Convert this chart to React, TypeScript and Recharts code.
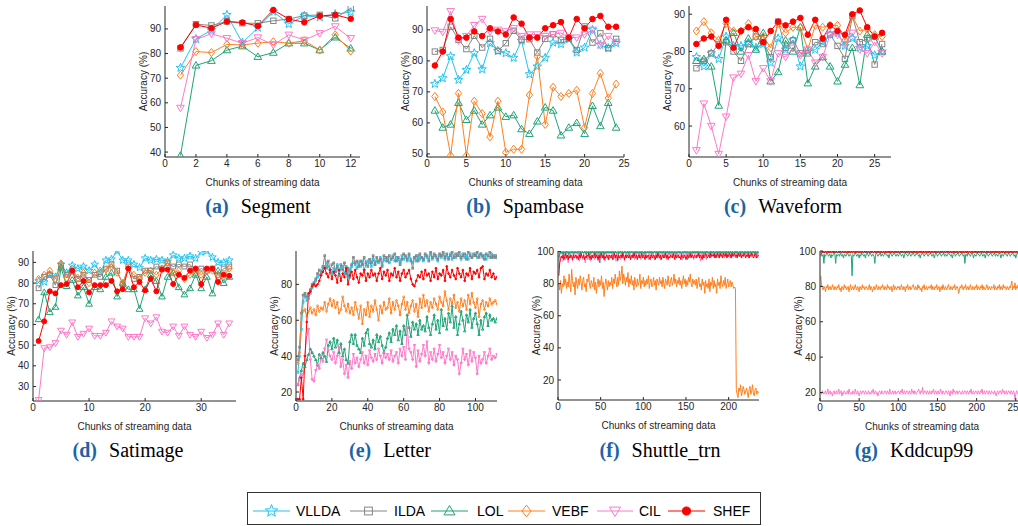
import React from 'react';
import { LineChart, Line, XAxis, YAxis } from 'recharts';

const FONT = '"Liberation Sans", Arial, Helvetica, sans-serif';
const SERIF = '"Liberation Serif", "Times New Roman", Times, serif';
const AX = '#262626';

const SERIES = [
  { key: 'VLLDA', color: '#21c4f2', shape: 'star' },
  { key: 'ILDA', color: '#858585', shape: 'square' },
  { key: 'LOL', color: '#1fa477', shape: 'tri' },
  { key: 'VEBF', color: '#ff7f1f', shape: 'diamond' },
  { key: 'CIL', color: '#ff79c9', shape: 'vtri' },
  { key: 'SHEF', color: '#ff0000', shape: 'circle' },
];

// (a) Segment
const A_VLLDA = [74.2, 85.9, 89.5, 95.7, 84.4, 90.5, 97, 92, 95.3, 94.8, 96, 96.8];
const A_ILDA = [82.1, 91.9, 91.4, 93, 92.3, 92.3, 93.3, 94, 95.4, 95.7, 94.3, 98.4];
const A_LOL = [38.6, 75.2, 77.1, 81.4, 83, 78.7, 80.4, 84.2, 84.2, 81.4, 86.6, 82.1];
const A_VEBF = [71.2, 80.8, 80.4, 83.7, 83.5, 84.2, 84.8, 84.2, 85.2, 81.4, 87.6, 81];
const A_CIL = [57.9, 85.8, 88, 86.2, 84.2, 86.5, 83.5, 87.6, 85.5, 88.2, 91, 86.2];
const A_SHEF = [82.5, 91.6, 90.3, 93, 92.6, 91.2, 97.7, 94, 92.7, 95.3, 95.7, 94.1];

// (b) Spambase
const B_VLLDA = [72.6, 74.4, 81.5, 73.9, 77.1, 82.5, 77.3, 85.7, 83.2, 82.5, 81, 86.5, 75.7, 78.2, 81, 85.9, 85.4, 87, 82.7, 84.3, 90, 85.2, 84.1, 85.7];
const B_ILDA = [83, 83.5, 91, 86.8, 83.8, 88.1, 84.3, 87.1, 83.2, 85.7, 89.7, 86.8, 87, 82.7, 87.1, 88.6, 86.8, 87.1, 83.5, 91.1, 85.9, 88.9, 84.1, 87.1];
const B_LOL = [64, 58.5, 59.5, 66.5, 61, 64, 59.5, 62.5, 65, 62, 62.5, 58, 56.5, 60.5, 65, 64, 56, 58.5, 60, 56.5, 65.5, 59, 66.5, 58.5];
const B_VEBF = [68.5, 63.5, 49.5, 69.5, 49.5, 67, 63, 55.5, 67, 50.5, 51.5, 51.5, 69, 81.5, 59.5, 71.5, 68.5, 69.5, 70.5, 58.5, 69.5, 76, 68, 72.5];
const B_CIL = [89.8, 89.3, 96, 86.5, 88, 91.5, 93.5, 89.5, 90, 89.5, 90.5, 88, 88.5, 88.5, 88, 88.5, 89, 87.5, 87.5, 88.5, 90, 85, 88, 86];
const B_SHEF = [78.5, 83, 93.5, 87.5, 87.5, 89.5, 88, 90.5, 89.5, 88.5, 94, 92, 87.5, 87.5, 90.5, 91.5, 92.5, 87.5, 93.5, 90.5, 93.5, 94.5, 91, 91];

// (c) Waveform
const C_VLLDA = [78.5, 76, 79.5, 78, 84, 81.5, 81.5, 82, 81, 82, 77, 83.5, 80.5, 83, 76, 80, 80.5, 82.5, 84.5, 85, 81.5, 83.5, 81, 81.5, 79, 80];
const C_ILDA = [75.5, 77.5, 79.5, 82, 82.5, 80, 77.5, 82, 84, 82.5, 78.5, 88, 81, 83, 79.5, 79.5, 82.5, 82, 84.5, 81.5, 78, 89.5, 82.5, 83.5, 76.5, 82];
const C_LOL = [77.5, 78, 76, 65.5, 83, 85, 80, 83.5, 80.5, 85, 72, 74.5, 83, 80, 86.5, 71.5, 76, 78.5, 76, 72, 76.5, 81, 71, 84.5, 84, 80];
const C_VEBF = [85.5, 88, 85, 83, 87.5, 85.5, 85.5, 87.5, 84, 84, 81, 87.5, 85, 86.5, 86.5, 80.5, 87, 86.5, 87, 87, 83, 89.5, 85.5, 86, 84.5, 84];
const C_CIL = [53.5, 66, 60, 52.5, 62.5, 73, 74, 79, 72, 75.5, 72, 79.5, 78.5, 81, 79, 80.5, 77, 78.5, 84.5, 84.5, 82, 85, 80.5, 79.5, 82.5, 79.5];
const C_SHEF = [82, 83.5, 84, 81.5, 88.5, 81, 85.5, 86.5, 86, 82.5, 85.5, 88, 87, 88, 89, 84.5, 88.5, 83.5, 87, 85.5, 84.5, 90, 91, 86.5, 84, 85];

// (d) Satimage
const D_VLLDA = [81, 80.5, 84, 83, 89, 85, 88.5, 87, 88, 86, 89, 85, 91, 91.5, 95.5, 91, 91, 89, 87.5, 92, 91, 91.5, 91, 90.5, 93.5, 92, 92, 93, 92, 95, 95.5, 92.5, 90, 90, 91];
const D_ILDA = [77.5, 83, 84, 79, 88.5, 84, 85.5, 82, 84, 81.5, 84, 83, 87, 89, 86, 79.5, 88, 82, 83, 86, 86, 88, 87, 89.5, 88, 89, 88, 89, 85, 87, 86, 87, 84, 87, 88];
const D_LOL = [62.5, 75.5, 66, 68.5, 87.5, 78.5, 81.5, 74, 78, 70, 78, 77, 83, 85, 73.5, 80, 77, 77, 67.5, 77, 84, 81, 73.5, 83, 85, 78, 74.5, 77.5, 84, 77.5, 83, 75, 86, 80, 83];
const D_VEBF = [82, 84, 86, 82, 89.5, 82.5, 87, 82.5, 85, 80, 85, 86, 86.5, 88, 85, 80, 87, 84, 82, 85, 86, 84, 87, 90, 85, 86, 82, 84, 86.5, 84, 86, 86, 84, 83, 87];
const D_CIL = [23.5, 48.5, 49, 51, 57, 55, 61, 54, 55.5, 58, 54.5, 54.5, 56, 61.5, 59, 58, 54, 54, 54, 63, 60.5, 63.5, 56.5, 56, 59, 54.5, 59, 55, 54, 56.5, 53.5, 55, 60.5, 55, 60.5];
const D_SHEF = [52, 61.5, 76, 75, 79, 79.5, 86, 78, 81, 75.5, 79, 79, 79, 81, 76, 77, 87, 78, 80.5, 76.5, 82, 76, 86.5, 86.5, 79.5, 84, 82.5, 86, 87, 79.5, 87, 87, 80.5, 84, 83.5];

// (e) Letter
const E_VLLDA = [
  31, 40, 55, 70, 74, 71, 72, 75, 78, 80, 82, 84, 85, 87, 89, 90, 92, 90, 88, 86,
  89, 88, 91, 87, 89, 90, 86, 90, 84, 88, 90, 92, 91, 89, 92, 90, 93, 88, 91, 93,
  92, 90, 94, 91, 93, 92, 95, 91, 94, 93, 95, 92, 94, 96, 93, 95, 94, 92, 96, 94,
  95, 93, 96, 94, 92, 95, 93, 96, 94, 95, 93, 96, 95, 94, 97, 94, 96, 95, 93, 96,
  95, 97, 94, 96, 95, 97, 94, 96, 95, 97, 96, 94, 97, 95, 96, 94, 97, 95, 96, 97,
  95, 96, 97, 95, 96, 94, 96, 95, 97, 95, 96, 95,
];
const E_ILDA = [
  38, 45, 64, 74, 75, 73, 74, 77, 80, 81, 83, 86, 88, 86, 90, 96, 89, 93, 88, 91,
  92, 87, 90, 85, 91, 88, 92, 86, 89, 84, 91, 95, 92, 93, 90, 93, 91, 95, 92, 90,
  94, 92, 96, 91, 95, 93, 94, 90, 96, 95, 93, 96, 94, 95, 97, 93, 95, 91, 94, 97,
  96, 94, 97, 93, 89, 95, 96, 93, 97, 95, 94, 97, 96, 93, 98, 95, 97, 96, 94, 97,
  96, 98, 95, 97, 94, 96, 98, 95, 97, 96, 98, 95, 96, 97, 94, 98, 96, 95, 97, 96,
  98, 95, 97, 96, 94, 97, 96, 98, 95, 96, 95, 96,
];
const E_LOL = [
  24, 28, 32, 36, 34, 38, 41, 44, 42, 40, 38, 35, 41, 39, 42, 40, 37, 46, 48, 44,
  50, 45, 49, 42, 47, 40, 44, 38, 36, 48, 52, 47, 52, 46, 44, 42, 50, 46, 53, 55,
  47, 45, 49, 44, 52, 48, 51, 46, 42, 45, 50, 53, 48, 55, 52, 57, 49, 54, 47, 57,
  52, 63, 56, 51, 59, 55, 58, 52, 60, 55, 57, 54, 62, 56, 52, 58, 63, 55, 60, 53,
  66, 57, 61, 55, 64, 59, 68, 56, 62, 52, 58, 65, 60, 54, 63, 59, 66, 56, 61, 64,
  58, 52, 60, 55, 62, 64, 57, 63, 60, 61, 59, 61,
];
const E_VEBF = [
  36, 42, 64, 65, 66, 62, 65, 67, 64, 66, 63, 68, 65, 67, 66, 70, 65, 69, 72, 68,
  71, 67, 70, 64, 66, 73, 68, 65, 69, 64, 67, 63, 70, 66, 61, 68, 58, 66, 63, 70,
  62, 68, 65, 71, 66, 60, 68, 64, 70, 66, 67, 72, 64, 70, 66, 71, 68, 63, 69, 73,
  66, 70, 64, 68, 71, 65, 69, 62, 72, 67, 74, 68, 71, 65, 70, 67, 72, 69, 66, 73,
  70, 68, 76, 71, 66, 72, 69, 74, 67, 70, 65, 72, 68, 71, 66, 74, 69, 75, 70, 67,
  72, 62, 69, 71, 66, 70, 68, 72, 69, 70, 71, 69,
];
const E_CIL = [
  24, 27, 30, 29, 40, 52, 55, 38, 27, 26, 32, 35, 33, 40, 37, 44, 49, 43, 40, 38,
  42, 36, 40, 45, 34, 38, 30, 35, 28, 37, 33, 41, 36, 39, 34, 38, 42, 36, 40, 35,
  43, 39, 37, 41, 38, 44, 40, 36, 42, 39, 41, 38, 43, 37, 40, 42, 36, 44, 40, 45,
  38, 56, 44, 42, 38, 46, 34, 43, 37, 41, 46, 40, 48, 36, 42, 38, 44, 37, 41, 46,
  39, 42, 36, 40, 44, 38, 42, 35, 40, 38, 30, 36, 44, 38, 41, 35, 43, 37, 42, 39,
  30, 40, 36, 38, 42, 36, 40, 44, 38, 40, 39, 41,
];
const E_SHEF = [
  16, 16, 28, 16, 40, 59, 75, 76, 79, 80, 79, 80, 82, 85, 87, 89, 86, 84, 88, 83,
  87, 85, 81, 88, 82, 86, 84, 89, 80, 85, 87, 83, 88, 84, 81, 86, 85, 88, 82, 86,
  84, 88, 85, 86, 82, 86, 89, 83, 87, 85, 88, 82, 86, 85, 89, 84, 87, 82, 86, 88,
  84, 86, 88, 83, 80, 79, 82, 85, 84, 87, 83, 88, 85, 86, 82, 87, 84, 89, 83, 86,
  85, 88, 82, 90, 86, 84, 88, 85, 83, 89, 86, 84, 88, 82, 86, 85, 89, 83, 87, 86,
  88, 84, 89, 90, 83, 86, 85, 88, 84, 86, 83, 84,
];

// (f) Shuttle_trn
const F_VLLDA = [
  94, 98, 99, 100, 99, 100, 100, 99, 100, 99, 100, 100, 99, 100, 99, 100, 100, 99, 100, 100,
  99, 100, 100, 99, 100, 100, 99, 100, 100, 99, 100, 99, 100, 100, 99, 100, 100, 99, 100, 100,
  100, 99, 100, 100, 99, 100, 100, 100, 99, 100, 99, 100, 100, 99, 100, 100, 99, 100, 100, 99,
  100, 100, 99, 100, 99, 100, 100, 99, 100, 100, 99, 100, 100, 100, 99, 100, 99, 100, 100, 99,
  100, 99, 100, 100, 99, 100, 100, 99, 100, 100, 100, 99, 100, 99, 100, 100, 99, 100, 100, 99,
  100, 100, 99, 100, 100, 99, 100, 100, 99, 100, 99, 100, 100, 99, 100, 100, 100, 99, 100, 100,
  99, 100, 100, 99, 100, 100, 99, 100, 99, 100, 100, 99, 100, 100, 99, 100, 100, 100, 99, 100,
  100, 99, 100, 100, 99, 100, 100, 99, 100, 100, 99, 100, 99, 100, 100, 99, 100, 100, 99, 100,
  100, 100, 99, 100, 100, 99, 100, 99, 100, 100, 99, 100, 100, 99, 100, 100, 99, 100, 100, 100,
  99, 100, 100, 99, 100, 99, 100, 100, 99, 100, 100, 99, 100, 100, 99, 100, 100, 99, 100, 99,
  100, 100, 99, 100, 100, 99, 100, 100, 100, 99, 100, 99, 100, 100, 99, 100, 100, 99, 100, 100,
  99, 100, 100, 99, 100, 100, 99, 100, 100, 99, 100, 100, 99, 100, 100,
];
const F_ILDA = [
  96, 99, 100, 99, 99, 100, 99, 100, 99, 100, 100, 99, 100, 99, 100, 99, 100, 100, 99, 100,
  100, 99, 99, 100, 99, 100, 100, 99, 100, 99, 100, 100, 99, 99, 100, 100, 99, 100, 99, 100,
  99, 100, 100, 99, 100, 99, 99, 100, 100, 99, 100, 99, 100, 100, 99, 99, 100, 99, 100, 100,
  99, 100, 99, 100, 100, 99, 100, 99, 99, 100, 100, 99, 100, 99, 100, 100, 99, 100, 99, 99,
  100, 99, 100, 99, 100, 100, 99, 100, 99, 100, 99, 100, 100, 99, 99, 100, 100, 99, 100, 99,
  99, 100, 100, 99, 100, 99, 100, 99, 100, 100, 99, 99, 100, 100, 99, 100, 99, 100, 100, 99,
  100, 99, 99, 100, 100, 99, 100, 100, 99, 100, 99, 100, 99, 100, 100, 99, 100, 99, 99, 100,
  99, 100, 100, 99, 99, 100, 99, 100, 100, 99, 100, 100, 99, 99, 100, 100, 99, 100, 100, 99,
  100, 99, 100, 100, 99, 100, 99, 99, 100, 100, 99, 100, 99, 100, 100, 99, 99, 100, 100, 99,
  100, 100, 99, 99, 100, 100, 99, 100, 99, 100, 100, 99, 100, 99, 99, 100, 100, 99, 100, 100,
  99, 100, 99, 100, 100, 99, 100, 99, 100, 100, 99, 99, 100, 100, 99, 100, 99, 100, 100, 99,
  100, 99, 100, 100, 99, 100, 99, 100, 100, 99, 100, 99, 100, 100, 99,
];
const F_LOL = [
  97, 99, 100, 99, 100, 98, 100, 99, 100, 100, 99, 100, 96, 100, 99, 100, 100, 98, 100, 99,
  100, 99, 100, 100, 97, 100, 99, 100, 100, 99, 100, 100, 98, 100, 99, 100, 95, 100, 99, 100,
  100, 99, 100, 98, 100, 100, 99, 100, 93, 100, 99, 100, 100, 97, 100, 99, 100, 100, 99, 100,
  99, 100, 100, 98, 100, 99, 100, 100, 99, 94, 100, 99, 100, 100, 98, 100, 99, 100, 100, 99,
  100, 100, 97, 100, 99, 100, 100, 99, 100, 98, 100, 100, 99, 100, 96, 100, 99, 100, 100, 99,
  100, 98, 100, 99, 100, 100, 99, 100, 100, 97, 100, 99, 100, 100, 99, 100, 98, 100, 99, 100,
  100, 99, 100, 100, 96, 100, 99, 100, 100, 98, 100, 99, 100, 100, 99, 100, 100, 97, 100, 99,
  100, 100, 99, 100, 98, 100, 99, 100, 100, 99, 100, 95, 100, 99, 100, 100, 98, 100, 99, 100,
  99, 100, 100, 98, 100, 99, 100, 100, 99, 100, 97, 100, 99, 100, 100, 99, 100, 98, 100, 100,
  99, 100, 100, 99, 100, 96, 100, 99, 100, 100, 98, 100, 99, 100, 100, 99, 100, 100, 97, 100,
  99, 100, 100, 98, 100, 99, 100, 100, 99, 100, 100, 97, 100, 99, 100, 100, 99, 100, 98, 100,
  99, 100, 100, 99, 100, 98, 100, 99, 100, 100, 99, 100, 97, 100, 99,
];
const F_VEBF = [
  80, 76, 82, 74, 80, 78, 85, 79, 83, 77, 81, 78, 86, 80, 75, 89, 82, 78, 81, 73,
  84, 80, 77, 83, 79, 85, 81, 76, 82, 84, 78, 80, 75, 83, 81, 86, 79, 77, 82, 80,
  78, 84, 76, 81, 74, 80, 83, 78, 82, 79, 85, 77, 81, 72, 79, 83, 80, 76, 82, 78,
  81, 79, 84, 77, 83, 80, 86, 82, 78, 84, 79, 88, 82, 85, 91, 80, 86, 83, 79, 84,
  81, 87, 78, 83, 80, 85, 79, 82, 76, 84, 80, 78, 83, 79, 81, 86, 77, 82, 80, 84,
  78, 82, 79, 83, 80, 85, 77, 81, 83, 78, 80, 84, 79, 82, 76, 83, 81, 79, 84, 80,
  82, 78, 84, 80, 77, 83, 81, 79, 85, 80, 78, 82, 84, 79, 81, 86, 80, 83, 78, 82,
  80, 84, 79, 82, 77, 81, 85, 80, 83, 78, 82, 79, 84, 81, 86, 80, 78, 83, 80, 82,
  79, 83, 77, 81, 84, 78, 80, 76, 83, 79, 81, 74, 82, 78, 80, 77, 83, 75, 81, 79,
  84, 77, 82, 78, 80, 74, 83, 79, 81, 77, 85, 80, 78, 82, 79, 84, 77, 80, 83, 78,
  80, 82, 78, 81, 79, 77, 78, 77, 14, 11, 9, 15, 13, 17, 10, 12, 16, 14, 11, 13,
  15, 12, 9, 14, 16, 11, 13, 17, 12, 10, 14, 15, 11, 13, 12,
];
const F_CIL = [
  90, 95, 97, 96, 98, 94, 97, 99, 95, 98, 96, 93, 97, 99, 96, 98, 94, 97, 99, 96,
  98, 95, 97, 99, 94, 96, 98, 97, 95, 99, 96, 93, 98, 97, 95, 99, 97, 94, 98, 96,
  97, 99, 95, 98, 96, 99, 94, 97, 98, 95, 99, 97, 96, 98, 94, 97, 99, 96, 98, 95,
  97, 98, 96, 99, 95, 97, 98, 94, 99, 96, 98, 97, 95, 99, 96, 98, 97, 94, 98, 99,
  96, 98, 97, 99, 95, 98, 96, 99, 97, 95, 98, 99, 96, 97, 99, 98, 95, 97, 99, 96,
  98, 97, 99, 96, 98, 95, 99, 97, 98, 96, 99, 97, 95, 98, 99, 96, 98, 97, 99, 95,
  98, 99, 96, 98, 97, 99, 95, 98, 99, 97, 96, 98, 99, 97, 98, 96, 99, 98, 97, 99,
  96, 98, 99, 97, 98, 95, 99, 98, 96, 99, 97, 98, 99, 96, 98, 97, 99, 98, 95, 97,
  99, 98, 96, 99, 97, 98, 94, 97, 99, 96, 98, 99, 97, 95, 98, 99, 97, 98, 96, 99,
  98, 97, 99, 96, 98, 99, 97, 98, 96, 99, 98, 97, 99, 98, 96, 99, 97, 98, 99, 97,
  98, 96, 99, 98, 97, 99, 98, 96, 99, 97, 98, 99, 97, 98, 96, 99, 98, 97, 99, 98,
  97, 99, 98, 96, 99, 98, 97, 99, 98, 97, 99, 96, 98, 99, 97,
];
const F_SHEF = [
  85, 93, 95, 97, 96, 98, 95, 97, 99, 96, 98, 95, 97, 96, 98, 97, 95, 98, 96, 97,
  98, 96, 97, 95, 98, 96, 99, 97, 96, 98, 95, 97, 96, 98, 97, 99, 96, 97, 95, 98,
  96, 97, 99, 96, 98, 97, 95, 98, 96, 97, 99, 96, 98, 95, 97, 96, 98, 97, 95, 98,
  97, 96, 98, 95, 97, 99, 96, 98, 97, 95, 98, 96, 97, 98, 96, 99, 97, 95, 98, 96,
  98, 97, 96, 98, 95, 97, 98, 96, 99, 97, 96, 98, 95, 97, 98, 96, 97, 99, 96, 98,
  97, 95, 98, 96, 97, 98, 96, 95, 98, 97, 96, 98, 97, 95, 98, 96, 99, 97, 96, 98,
  95, 97, 98, 96, 97, 99, 96, 98, 95, 97, 96, 98, 97, 96, 99, 97, 95, 98, 96, 97,
  98, 96, 97, 95, 98, 97, 96, 98, 97, 95, 97, 98, 96, 97, 99, 96, 98, 97, 96, 98,
  97, 96, 98, 97, 99, 96, 98, 97, 95, 98, 96, 97, 99, 98, 96, 97, 98, 96, 99, 97,
  98, 97, 99, 96, 98, 97, 99, 98, 96, 99, 97, 98, 96, 99, 98, 97, 99, 96, 98, 97,
  99, 98, 96, 99, 97, 98, 99, 97, 98, 96, 99, 98, 97, 99, 96, 98, 97, 99, 98, 96,
  98, 97, 99, 96, 98, 97, 99, 98, 96, 97, 99, 98, 96, 97, 98,
];

// (g) Kddcup99
const G_VLLDA = [
  98, 99, 100, 99, 100, 99, 100, 100, 99, 100, 99, 100, 100, 99, 100, 100, 99, 100, 99, 100,
  99, 100, 100, 99, 100, 100, 99, 100, 100, 99, 100, 99, 100, 100, 99, 100, 100, 99, 100, 100,
  100, 99, 100, 100, 99, 100, 100, 100, 99, 100, 99, 100, 100, 99, 100, 100, 99, 100, 100, 99,
  100, 100, 99, 100, 99, 100, 100, 99, 100, 100, 99, 100, 100, 100, 99, 100, 99, 100, 100, 99,
  100, 99, 100, 100, 99, 100, 100, 99, 100, 100, 100, 99, 100, 99, 100, 100, 99, 100, 100, 99,
  100, 100, 99, 100, 100, 99, 100, 100, 99, 100, 99, 100, 100, 99, 100, 100, 100, 99, 100, 100,
  99, 100, 100, 99, 100, 100, 99, 100, 99, 100, 100, 99, 100, 100, 99, 100, 100, 100, 99, 100,
  100, 99, 100, 100, 99, 100, 100, 99, 100, 100, 99, 100, 99, 100, 100, 99, 100, 100, 99, 100,
  100, 100, 99, 100, 100, 99, 100, 99, 100, 100, 99, 100, 100, 99, 100, 100, 99, 100, 100, 100,
  99, 100, 100, 99, 100, 99, 100, 100, 99, 100, 100, 99, 100, 100, 99, 100, 100, 99, 100, 99,
  100, 100, 99, 100, 100, 99, 100, 100, 100, 99, 100, 99, 100, 100, 99, 100, 100, 99, 100, 100,
  99, 100, 100, 99, 100, 100, 99, 100, 100, 99, 100, 100, 99, 100, 100, 99, 100, 99, 100, 100,
  100, 99, 100, 100, 99, 100, 99, 100, 100, 99, 100, 100, 99, 100, 99, 100, 100, 99, 100, 100,
];
const G_ILDA = [
  99, 100, 99, 100, 100, 99, 100, 99, 100, 100, 99, 100, 99, 100, 100, 99, 100, 100, 99, 100,
  100, 99, 99, 100, 99, 100, 100, 99, 100, 99, 100, 100, 99, 99, 100, 100, 99, 100, 99, 100,
  99, 100, 100, 99, 100, 99, 99, 100, 100, 99, 100, 99, 100, 100, 99, 99, 100, 99, 100, 100,
  99, 100, 99, 100, 100, 99, 100, 99, 99, 100, 100, 99, 100, 99, 100, 100, 99, 100, 99, 99,
  100, 99, 100, 99, 100, 100, 99, 100, 99, 100, 99, 100, 100, 99, 99, 100, 100, 99, 100, 99,
  99, 100, 100, 99, 100, 99, 100, 99, 100, 100, 99, 99, 100, 100, 99, 100, 99, 100, 100, 99,
  100, 99, 99, 100, 100, 99, 100, 100, 99, 100, 99, 100, 99, 100, 100, 99, 100, 99, 99, 100,
  99, 100, 100, 99, 99, 100, 99, 100, 100, 99, 100, 100, 99, 99, 100, 100, 99, 100, 100, 99,
  100, 99, 100, 100, 99, 100, 99, 99, 100, 100, 99, 100, 99, 100, 100, 99, 99, 100, 100, 99,
  100, 100, 99, 99, 100, 100, 99, 100, 99, 100, 100, 99, 100, 99, 99, 100, 100, 99, 100, 100,
  99, 100, 99, 100, 100, 99, 100, 99, 100, 100, 99, 99, 100, 100, 99, 100, 99, 100, 100, 99,
  100, 99, 100, 100, 99, 100, 99, 100, 100, 99, 100, 99, 100, 100, 99, 100, 99, 100, 99, 100,
  99, 100, 100, 99, 100, 99, 100, 100, 99, 100, 99, 100, 100, 99, 100, 100, 99, 100, 99, 100,
];
const G_LOL = [
  97, 98, 97, 98, 93, 98, 97, 98, 99, 98, 97, 98, 98, 96, 98, 97, 98, 99, 98, 93,
  98, 97, 98, 98, 97, 99, 98, 97, 98, 96, 98, 98, 97, 98, 99, 98, 97, 98, 98, 97,
  86, 98, 97, 98, 99, 98, 97, 98, 98, 96, 98, 97, 99, 98, 98, 97, 98, 96, 98, 99,
  98, 97, 98, 99, 98, 97, 98, 98, 97, 93, 98, 99, 98, 97, 98, 98, 99, 97, 98, 98,
  97, 98, 99, 98, 98, 97, 98, 96, 98, 99, 98, 97, 98, 98, 99, 98, 97, 98, 98, 97,
  98, 99, 98, 97, 98, 98, 96, 98, 99, 98, 98, 97, 98, 99, 98, 97, 98, 98, 99, 98,
  97, 98, 98, 99, 98, 97, 98, 96, 98, 98, 99, 98, 97, 98, 98, 99, 98, 97, 98, 98,
  99, 98, 97, 98, 98, 96, 98, 99, 98, 97, 98, 98, 99, 98, 97, 98, 98, 99, 97, 98,
  98, 97, 98, 99, 98, 98, 97, 98, 96, 98, 99, 98, 97, 98, 98, 99, 98, 97, 98, 98,
  99, 98, 97, 98, 93, 98, 98, 97, 99, 98, 98, 97, 98, 99, 98, 96, 98, 98, 97, 98,
  99, 98, 98, 97, 98, 99, 98, 97, 98, 98, 96, 98, 99, 98, 97, 98, 98, 99, 98, 97,
  98, 98, 99, 97, 98, 98, 97, 98, 99, 98, 96, 98, 98, 97, 98, 99, 98, 98, 97, 98,
  99, 98, 97, 98, 98, 99, 98, 97, 98, 96, 98, 99, 98, 98, 97, 98, 99, 98, 97, 98,
];
const G_VEBF = [
  86, 80, 79, 78, 80, 79, 77, 80, 79, 81, 78, 79, 80, 78, 79, 81, 79, 78, 80, 79,
  78, 80, 79, 81, 78, 79, 77, 80, 79, 78, 81, 79, 80, 78, 79, 80, 77, 79, 81, 78,
  79, 80, 78, 79, 81, 79, 78, 80, 79, 77, 80, 79, 78, 81, 79, 80, 78, 79, 80, 79,
  78, 79, 81, 78, 80, 79, 77, 79, 80, 78, 79, 81, 79, 78, 80, 79, 78, 80, 79, 81,
  79, 78, 80, 79, 78, 81, 79, 80, 78, 79, 80, 77, 79, 81, 78, 80, 79, 78, 80, 79,
  80, 78, 79, 81, 79, 78, 80, 79, 77, 80, 79, 81, 78, 79, 80, 78, 79, 80, 81, 79,
  78, 80, 79, 78, 81, 79, 80, 78, 79, 77, 80, 79, 81, 78, 79, 80, 78, 79, 80, 79,
  79, 81, 78, 80, 79, 78, 80, 79, 81, 78, 79, 80, 77, 79, 80, 78, 81, 79, 78, 80,
  79, 78, 80, 81, 79, 78, 80, 79, 78, 80, 79, 81, 78, 79, 80, 79, 76, 78, 80, 79,
  81, 79, 78, 80, 79, 81, 78, 79, 80, 78, 79, 81, 79, 78, 80, 79, 78, 80, 79, 81,
  78, 80, 79, 78, 80, 79, 81, 78, 80, 79, 78, 79, 81, 79, 78, 80, 79, 78, 80, 79,
  79, 81, 78, 80, 79, 78, 80, 79, 81, 78, 80, 79, 78, 81, 79, 80, 79, 78, 80, 79,
  78, 80, 79, 81, 83, 78, 80, 79, 82, 78, 80, 79, 81, 78, 80, 79, 81, 78, 80, 79,
];
const G_CIL = [
  20, 19, 21, 20, 19, 20, 21, 19, 20, 22, 19, 20, 21, 19, 20, 18, 20, 21, 19, 20,
  21, 19, 20, 22, 19, 20, 21, 18, 20, 19, 21, 20, 19, 20, 21, 19, 22, 20, 19, 20,
  19, 21, 20, 19, 22, 20, 19, 21, 20, 18, 20, 21, 19, 20, 21, 20, 19, 21, 20, 19,
  20, 21, 19, 20, 19, 21, 20, 22, 19, 20, 21, 19, 20, 18, 20, 21, 20, 19, 21, 20,
  19, 20, 21, 20, 19, 21, 20, 19, 22, 20, 19, 20, 21, 19, 20, 21, 19, 20, 20, 21,
  20, 19, 21, 20, 22, 19, 20, 21, 19, 20, 21, 20, 19, 21, 20, 19, 22, 20, 21, 19,
  21, 20, 19, 20, 21, 22, 20, 19, 21, 20, 23, 19, 20, 21, 20, 19, 21, 20, 19, 21,
  20, 19, 21, 20, 22, 19, 20, 21, 19, 20, 21, 19, 20, 22, 20, 19, 21, 20, 19, 20,
  21, 20, 19, 21, 20, 18, 21, 20, 19, 22, 20, 21, 19, 20, 21, 19, 20, 21, 20, 19,
  20, 21, 19, 20, 21, 20, 19, 21, 20, 19, 21, 20, 22, 19, 20, 21, 19, 20, 21, 20,
  19, 21, 20, 19, 21, 20, 22, 19, 20, 21, 19, 20, 21, 20, 19, 21, 20, 19, 21, 20,
  20, 19, 21, 20, 18, 20, 21, 19, 20, 21, 20, 19, 22, 20, 21, 19, 20, 21, 19, 20,
  21, 20, 19, 21, 20, 19, 21, 20, 16, 19, 21, 20, 19, 21, 20, 19, 20, 21, 19, 20,
];
const G_SHEF = [
  98, 99, 99, 100, 99, 99, 100, 99, 99, 100, 99, 99, 100, 99, 99, 100, 99, 100, 99, 99,
  100, 99, 99, 100, 99, 100, 99, 99, 100, 99, 99, 100, 99, 99, 100, 99, 100, 99, 99, 100,
  99, 99, 100, 99, 99, 100, 99, 100, 99, 99, 100, 99, 99, 100, 99, 99, 100, 99, 100, 99,
  99, 100, 99, 99, 100, 99, 100, 99, 99, 100, 99, 99, 100, 99, 100, 99, 99, 100, 99, 99,
  100, 99, 99, 100, 99, 99, 100, 99, 100, 99, 99, 100, 99, 99, 100, 99, 100, 99, 99, 100,
  99, 99, 100, 99, 100, 99, 99, 100, 99, 99, 100, 99, 100, 99, 99, 100, 99, 99, 100, 99,
  100, 99, 99, 100, 99, 99, 100, 99, 100, 99, 99, 100, 99, 99, 100, 99, 99, 100, 99, 100,
  99, 99, 100, 99, 99, 100, 99, 100, 99, 99, 100, 99, 99, 100, 99, 100, 99, 99, 100, 99,
  99, 100, 99, 100, 99, 99, 100, 99, 99, 100, 99, 100, 99, 99, 100, 99, 99, 100, 99, 100,
  99, 99, 100, 99, 99, 100, 99, 100, 99, 99, 100, 99, 99, 100, 99, 99, 100, 99, 100, 99,
  99, 100, 99, 99, 100, 99, 100, 99, 99, 100, 99, 99, 100, 99, 100, 99, 99, 100, 99, 99,
  100, 99, 99, 100, 99, 100, 99, 99, 100, 99, 99, 100, 99, 100, 99, 99, 100, 99, 99, 100,
  99, 99, 100, 99, 100, 99, 99, 100, 99, 99, 100, 99, 99, 100, 99, 100, 99, 99, 100, 99,
];

const toRows = (cols: number[][]) =>
  Array.from({ length: cols[0].length }, (_, i) => {
    const row: Record<string, number> = { x: i + 1 };
    SERIES.forEach((s, j) => {
      row[s.key] = cols[j][i];
    });
    return row;
  });

type Shape = 'star' | 'square' | 'tri' | 'diamond' | 'vtri' | 'circle';

function Marker({ shape, cx, cy, r, color }: { shape: Shape; cx: number; cy: number; r: number; color: string }) {
  const poly = (pts: number[][]) => pts.map((p) => `${p[0]},${p[1]}`).join(' ');
  switch (shape) {
    case 'star': {
      const pts: number[][] = [];
      for (let i = 0; i < 10; i++) {
        const rad = i % 2 === 0 ? r : r * 0.42;
        const a = -Math.PI / 2 + (i * Math.PI) / 5;
        pts.push([cx + rad * Math.cos(a), cy + rad * Math.sin(a)]);
      }
      return <polygon points={poly(pts)} fill="none" stroke={color} strokeWidth={1} />;
    }
    case 'square':
      return <rect x={cx - r * 0.6} y={cy - r * 0.6} width={r * 1.2} height={r * 1.2} fill="none" stroke={color} strokeWidth={1} />;
    case 'tri':
      return <polygon points={poly([[cx, cy - r * 0.85], [cx + r * 0.85, cy + r * 0.6], [cx - r * 0.85, cy + r * 0.6]])} fill="none" stroke={color} strokeWidth={1} />;
    case 'vtri':
      return <polygon points={poly([[cx, cy + r * 0.85], [cx + r * 0.85, cy - r * 0.6], [cx - r * 0.85, cy - r * 0.6]])} fill="none" stroke={color} strokeWidth={1} />;
    case 'diamond':
      return <polygon points={poly([[cx, cy - r * 0.9], [cx + r * 0.7, cy], [cx, cy + r * 0.9], [cx - r * 0.7, cy]])} fill="none" stroke={color} strokeWidth={1} />;
    default:
      return <circle cx={cx} cy={cy} r={r * 0.62} fill={color} stroke={color} strokeWidth={1} />;
  }
}

const markerDot = (shape: Shape, color: string, r: number) => (props: any) => {
  const { cx, cy, index } = props;
  if (cx == null || cy == null) return <g key={`e-${index}`} />;
  return (
    <g key={`m-${index}`}>
      <Marker shape={shape} cx={cx} cy={cy} r={r} color={color} />
    </g>
  );
};

const PANELS = [
  { id: 'a', name: 'Segment', box: [165, 6, 360, 157], xDomain: [0, 12.6], xTicks: [0, 2, 4, 6, 8, 10, 12], yDomain: [38, 99.3], yTicks: [40, 50, 60, 70, 80, 90], cols: [A_VLLDA, A_ILDA, A_LOL, A_VEBF, A_CIL, A_SHEF], mark: 4.5, cap: [258, 196] },
  { id: 'b', name: 'Spambase', box: [427, 6, 624, 157], xDomain: [0, 25], xTicks: [0, 5, 10, 15, 20, 25], yDomain: [49, 97.7], yTicks: [50, 60, 70, 80, 90], cols: [B_VLLDA, B_ILDA, B_LOL, B_VEBF, B_CIL, B_SHEF], mark: 4.5, cap: [525, 196] },
  { id: 'c', name: 'Waveform', box: [689, 6, 891, 157], xDomain: [0, 27.2], xTicks: [0, 5, 10, 15, 20, 25], yDomain: [51.7, 92.2], yTicks: [60, 70, 80, 90], cols: [C_VLLDA, C_ILDA, C_LOL, C_VEBF, C_CIL, C_SHEF], mark: 4.5, cap: [783, 196] },
  { id: 'd', name: 'Satimage', box: [33, 251, 236, 401], xDomain: [0, 36.2], xTicks: [0, 10, 20, 30], yDomain: [23, 95.5], yTicks: [30, 40, 50, 60, 70, 80, 90], cols: [D_VLLDA, D_ILDA, D_LOL, D_VEBF, D_CIL, D_SHEF], mark: 4, cap: [128, 440] },
  { id: 'e', name: 'Letter', box: [296, 251, 497, 401], xDomain: [0, 112], xTicks: [0, 20, 40, 60, 80, 100], yDomain: [15, 98.6], yTicks: [20, 40, 60, 80], cols: [E_VLLDA, E_ILDA, E_LOL, E_VEBF, E_CIL, E_SHEF], mark: 1.4, cap: [390, 440] },
  { id: 'f', name: 'Shuttle_trn', box: [558, 251, 759, 400], xDomain: [0, 235.6], xTicks: [0, 50, 100, 150, 200], yDomain: [7.5, 100.4], yTicks: [20, 40, 60, 80, 100], cols: [F_VLLDA, F_ILDA, F_LOL, F_VEBF, F_CIL, F_SHEF], mark: 0, cap: [660, 440] },
  { id: 'g', name: 'Kddcup99', box: [820, 251, 1024, 401], xDomain: [0, 260.5], xTicks: [0, 50, 100, 150, 200, 250], yDomain: [15.2, 100], yTicks: [20, 40, 60, 80, 100], cols: [G_VLLDA, G_ILDA, G_LOL, G_VEBF, G_CIL, G_SHEF], mark: 0, cap: [914, 440] },
];

const YW = 40;
const MT = 4;
const MR = 12;
const XH = 32;
const TICK = { fill: AX, fontSize: 10, fontFamily: FONT };

function Panel({ p }: { p: (typeof PANELS)[number] }) {
  const [l, t, r, b] = p.box;
  const data = toRows(p.cols);
  return (
    <div style={{ position: 'absolute', left: l - YW, top: t - MT }}>
      <LineChart width={YW + (r - l) + MR} height={MT + (b - t) + XH} data={data} margin={{ top: MT, right: MR, bottom: 0, left: 0 }}>
        <XAxis
          type="number"
          dataKey="x"
          domain={p.xDomain}
          ticks={p.xTicks}
          interval={0}
          allowDataOverflow
          height={XH}
          stroke={AX}
          tickSize={-3}
          tickMargin={6}
          tick={TICK}
          label={{ value: 'Chunks of streaming data', position: 'insideBottom', offset: 3, fill: AX, fontSize: 10, fontFamily: FONT }}
        />
        <XAxis xAxisId="top" orientation="top" type="number" dataKey="x" domain={p.xDomain} ticks={p.xTicks} interval={0} allowDataOverflow height={0} stroke={AX} tickSize={-3} tick={false} />
        <YAxis
          type="number"
          domain={p.yDomain}
          ticks={p.yTicks}
          interval={0}
          allowDataOverflow
          width={YW}
          stroke={AX}
          tickSize={-3}
          tickMargin={7}
          tick={TICK}
          label={{ value: 'Accuracy (%)', angle: -90, position: 'insideLeft', offset: 18, fill: AX, fontSize: 10, fontFamily: FONT, style: { textAnchor: 'middle' } }}
        />
        <YAxis yAxisId="right" orientation="right" type="number" domain={p.yDomain} ticks={p.yTicks} interval={0} allowDataOverflow width={0} stroke={AX} tickSize={-3} tick={false} />
        {SERIES.map((s) => (
          <Line
            key={s.key}
            type="linear"
            dataKey={s.key}
            stroke={s.color}
            strokeWidth={1}
            dot={p.mark ? markerDot(s.shape as Shape, s.color, p.mark) : false}
            activeDot={false}
            isAnimationActive={false}
          />
        ))}
      </LineChart>
    </div>
  );
}

function Caption({ p }: { p: (typeof PANELS)[number] }) {
  return (
    <div
      style={{
        position: 'absolute',
        left: p.cap[0] - 150,
        top: p.cap[1],
        width: 300,
        textAlign: 'center',
        fontFamily: SERIF,
        fontSize: 20,
        lineHeight: '20px',
        color: '#000',
        whiteSpace: 'nowrap',
      }}
    >
      <span style={{ color: '#1b64a8', fontWeight: 'bold' }}>({p.id})</span>
      <span style={{ marginLeft: 12 }}>{p.name}</span>
    </div>
  );
}

const LEGEND_POS = [
  [253, 290, 296],
  [350, 387, 394],
  [431, 468, 477],
  [508, 545, 552],
  [597, 633, 639],
  [668, 705, 713],
];

function LegendBox() {
  const cy = 19;
  return (
    <svg style={{ position: 'absolute', left: 0, top: 492 }} width={1018} height={34}>
      <rect x={247.5} y={0.5} width={513} height={32} fill="#fff" stroke="#333" strokeWidth={1} />
      {SERIES.map((s, i) => {
        const [x1, x2, tx] = LEGEND_POS[i];
        return (
          <g key={s.key}>
            <line x1={x1} x2={x2} y1={cy} y2={cy} stroke={s.color} strokeWidth={1} />
            <Marker shape={s.shape as Shape} cx={(x1 + x2) / 2} cy={cy} r={6.5} color={s.color} />
            <text x={tx} y={cy + 5} fontFamily={FONT} fontSize={14} fill="#000">
              {s.key}
            </text>
          </g>
        );
      })}
    </svg>
  );
}

export default function App() {
  return (
    <div style={{ position: 'fixed', left: 0, top: 0, width: 1018, height: 526, overflow: 'hidden', background: '#fff' }}>
      {PANELS.map((p) => (
        <Panel key={p.id} p={p} />
      ))}
      {PANELS.map((p) => (
        <Caption key={`c-${p.id}`} p={p} />
      ))}
      <LegendBox />
    </div>
  );
}
